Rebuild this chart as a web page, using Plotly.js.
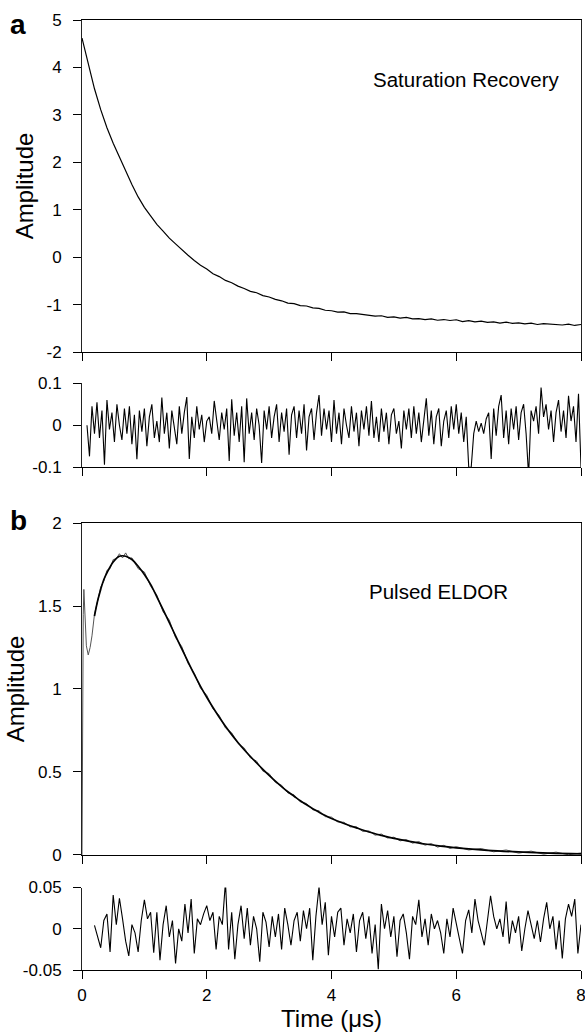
<!DOCTYPE html>
<html>
<head>
<meta charset="utf-8">
<script src="https://cdn.plot.ly/plotly-3.0.1.min.js"></script>
<style>html,body{margin:0;padding:0;background:#fff}#chart{width:585px;height:1035px}</style>
</head>
<body>
<div id="chart"></div>
<script>
// ---------- Panel a: saturation recovery ----------
const satTime = [0,0.1,0.2,0.3,0.4,0.5,0.6,0.7,0.8,0.9,1.0,1.1,1.2,1.3,1.4,1.5,1.6,1.7,1.8,1.9,2.0,2.1,2.2,2.3,2.4,2.5,2.6,2.7,2.8,2.9,3.0,3.1,3.2,3.3,3.4,3.5,3.6,3.7,3.8,3.9,4.0,4.1,4.2,4.3,4.4,4.5,4.6,4.7,4.8,4.9,5.0,5.1,5.2,5.3,5.4,5.5,5.6,5.7,5.8,5.9,6.0,6.1,6.2,6.3,6.4,6.5,6.6,6.7,6.8,6.9,7.0,7.1,7.2,7.3,7.4,7.5,7.6,7.7,7.8,7.9,8.0];
const satAmp = [4.62,4.07,3.55,3.11,2.73,2.40,2.10,1.81,1.53,1.27,1.05,0.87,0.69,0.55,0.40,0.28,0.15,0.04,-0.07,-0.17,-0.25,-0.35,-0.41,-0.49,-0.54,-0.61,-0.66,-0.72,-0.75,-0.81,-0.84,-0.89,-0.92,-0.97,-0.98,-1.02,-1.03,-1.07,-1.08,-1.12,-1.13,-1.16,-1.155,-1.19,-1.19,-1.21,-1.215,-1.245,-1.235,-1.27,-1.26,-1.285,-1.27,-1.30,-1.295,-1.315,-1.30,-1.33,-1.315,-1.335,-1.32,-1.36,-1.34,-1.365,-1.35,-1.375,-1.365,-1.39,-1.37,-1.395,-1.385,-1.405,-1.39,-1.42,-1.40,-1.41,-1.405,-1.43,-1.41,-1.44,-1.42];

// residual a: uniformly sampled, first sample time and sampling interval (us)
const satResStart = 0.08;
const satResStep = 0.04;
const satResidual = [
 0.00,-0.074,0.045,-0.02,0.055,-0.03,0.035,-0.094,0.06,-0.01,
 0.03,-0.04,0.05,0.00,-0.035,0.04,-0.02,0.045,-0.045,0.025,
 -0.081,0.035,-0.015,0.04,-0.05,0.02,0.05,-0.03,0.01,-0.04,
 0.066,-0.02,0.03,-0.055,0.035,0.0,-0.045,0.045,-0.02,0.03,
 0.067,-0.08,0.02,-0.03,0.045,-0.01,0.025,-0.04,0.01,0.02,
 -0.02,0.058,0.01,-0.035,0.03,-0.01,0.04,-0.085,0.062,-0.025,
 0.03,-0.04,0.045,-0.088,0.064,-0.02,0.03,-0.035,0.04,0.00,
 -0.09,0.035,-0.01,0.045,-0.03,0.02,0.05,-0.04,0.03,-0.015,
 0.04,-0.07,0.025,0.045,-0.03,0.035,-0.02,0.05,-0.06,0.02,
 0.04,-0.035,0.03,0.072,-0.025,0.04,-0.01,0.035,-0.04,0.06,
 -0.02,0.03,-0.045,0.04,0.0,-0.03,0.045,-0.015,0.03,-0.05,
 0.035,-0.01,0.045,-0.025,0.058,-0.03,0.02,-0.04,0.04,-0.015,
 0.03,-0.045,0.025,0.04,-0.02,0.01,-0.055,0.035,-0.01,0.04,
 -0.03,0.045,-0.02,0.03,-0.04,0.02,0.064,-0.025,0.035,-0.045,
 0.02,0.04,-0.05,0.01,0.035,-0.03,0.045,-0.01,0.05,-0.02,
 0.03,-0.04,0.02,-0.10,-0.10,-0.02,0.01,-0.015,0.005,-0.02,
 0.015,0.03,-0.08,0.04,-0.025,0.045,0.072,-0.03,0.035,-0.045,
 0.04,-0.01,0.045,-0.035,0.03,0.05,-0.02,-0.12,0.035,0.01,
 0.045,-0.02,0.09,0.02,0.05,-0.01,0.035,-0.04,0.03,0.06,
 -0.015,0.035,-0.03,0.07,0.01,0.045,-0.04,0.075,-0.10];

// ---------- Panel b: pulsed ELDOR ----------
const eldorTime = [0,0.01,0.02,0.03,0.05,0.07,0.10,0.13,0.16,0.20,0.25,0.30,0.35,0.40,0.45,0.50,0.55,0.60,0.65,0.70,0.75,0.80,0.90,1.00,1.10,1.20,1.30,1.40,1.50,1.60,1.70,1.80,1.90,2.00,2.10,2.20,2.30,2.40,2.50,2.60,2.70,2.80,2.90,3.00,3.10,3.20,3.30,3.40,3.50,3.60,3.70,3.80,3.90,4.00,4.10,4.20,4.30,4.40,4.50,4.60,4.70,4.80,4.90,5.00,5.10,5.20,5.30,5.40,5.50,5.60,5.70,5.80,5.90,6.00,6.20,6.40,6.60,6.80,7.00,7.20,7.40,7.60,7.80,8.00];
const eldorAmp = [0.00,0.95,1.45,1.60,1.40,1.26,1.205,1.25,1.32,1.45,1.53,1.615,1.65,1.715,1.725,1.78,1.785,1.815,1.79,1.82,1.785,1.79,1.725,1.705,1.62,1.565,1.465,1.415,1.31,1.255,1.155,1.095,1.005,0.962,0.88,0.84,0.765,0.736,0.672,0.645,0.585,0.565,0.505,0.49,0.437,0.42,0.374,0.362,0.32,0.31,0.272,0.266,0.231,0.228,0.199,0.197,0.169,0.17,0.142,0.145,0.119,0.126,0.102,0.107,0.085,0.093,0.071,0.081,0.059,0.069,0.047,0.058,0.039,0.05,0.03,0.039,0.019,0.03,0.011,0.023,0.005,0.017,0.001,0.012];

const eldorFitTime = [0.20,0.25,0.30,0.35,0.40,0.50,0.60,0.70,0.80,0.90,1.00,1.10,1.20,1.30,1.40,1.50,1.60,1.70,1.80,1.90,2.00,2.10,2.20,2.30,2.40,2.50,2.60,2.70,2.80,2.90,3.00,3.10,3.20,3.30,3.40,3.50,3.60,3.70,3.80,3.90,4.00,4.20,4.40,4.60,4.80,5.00,5.25,5.50,5.75,6.00,6.50,7.00,7.50,8.00];
const eldorFit = [1.44,1.53,1.60,1.66,1.70,1.765,1.80,1.80,1.78,1.74,1.69,1.63,1.555,1.478,1.40,1.32,1.242,1.164,1.088,1.016,0.950,0.888,0.830,0.776,0.725,0.678,0.634,0.593,0.554,0.516,0.48,0.445,0.412,0.381,0.354,0.327,0.302,0.279,0.258,0.238,0.22,0.19,0.163,0.138,0.118,0.10,0.082,0.066,0.053,0.043,0.028,0.018,0.011,0.007];

// residual b: uniformly sampled
const eldorResStart = 0.2;
const eldorResStep = 0.05;
const eldorResidual = [
 0.004,-0.008,-0.023,0.01,0.018,-0.028,0.041,0.005,0.037,0.012,
 -0.015,-0.033,0.005,-0.005,-0.028,0.01,0.035,0.012,0.02,-0.029,
 0.02,-0.038,0.005,0.028,-0.01,0.01,-0.042,0.0,-0.015,0.03,
 -0.005,0.036,-0.03,0.012,0.005,0.018,0.028,0.01,0.02,-0.025,
 0.015,0.005,0.057,-0.025,0.02,-0.037,0.005,0.028,-0.012,0.025,
 -0.02,0.015,0.0,-0.04,0.02,0.008,-0.022,0.015,-0.01,0.018,
 -0.025,0.025,0.005,-0.02,0.01,0.02,-0.015,0.022,0.0,0.025,
 -0.038,0.015,0.051,0.005,0.032,-0.032,0.015,-0.01,0.02,0.025,
 -0.02,0.012,-0.005,0.018,-0.028,0.01,0.02,-0.012,0.015,-0.03,
 0.005,-0.049,0.03,0.0,0.022,-0.01,0.015,-0.034,0.01,0.018,
 -0.005,-0.037,0.015,0.005,0.035,-0.01,0.012,-0.02,0.018,0.0,
 0.01,-0.005,-0.03,0.012,-0.01,0.025,0.005,-0.012,-0.03,0.01,
 0.023,-0.005,0.036,0.01,-0.005,-0.02,0.01,0.04,0.015,0.0,
 0.012,-0.01,0.033,-0.018,0.01,-0.005,0.015,-0.027,0.0,0.022,
 0.005,-0.012,0.01,-0.016,0.012,0.032,0.0,0.015,-0.025,0.01,
 -0.036,0.012,0.03,0.015,0.036,-0.03,0.005];

const xTicks = [0,2,4,6,8];
const xTickText = ['0','2','4','6','8'];
const satTicks = [-2,-1,0,1,2,3,4,5];
const satTickText = ['-2','-1','0','1','2','3','4','5'];
const satResTicks = [-0.1,0,0.1];
const satResTickText = ['-0.1','0','0.1'];
const eldorTicks = [0,0.5,1,1.5,2];
const eldorTickText = ['0','0.5','1','1.5','2'];
const eldorResTicks = [-0.05,0,0.05];
const eldorResTickText = ['-0.05','0','0.05'];

const satResTime = satResidual.map((_, i) => satResStart + i * satResStep);
const eldorResTime = eldorResidual.map((_, i) => eldorResStart + i * eldorResStep);

const traces = [
  {x: satTime, y: satAmp, xaxis: 'x', yaxis: 'y', mode: 'lines', line: {color: '#000', width: 1.2}},
  {x: satResTime, y: satResidual, xaxis: 'x2', yaxis: 'y2', mode: 'lines', line: {color: '#000', width: 1.1}},
  {x: eldorTime, y: eldorAmp, xaxis: 'x3', yaxis: 'y3', mode: 'lines', line: {color: '#555', width: 1}},
  {x: eldorFitTime, y: eldorFit, xaxis: 'x3', yaxis: 'y3', mode: 'lines', line: {color: '#000', width: 1.7, shape: 'spline'}},
  {x: eldorResTime, y: eldorResidual, xaxis: 'x4', yaxis: 'y4', mode: 'lines', line: {color: '#000', width: 1.1}}
];

const fontFam = 'Liberation Sans, Arial, sans-serif';
function xax(anchor, mirror, labels) {
  return {
    anchor: anchor, domain: [0, 1], range: [0, 8], tickmode: 'array', tickvals: xTicks, ticktext: xTickText,
    ticks: 'outside', ticklen: 8, tickwidth: 1, tickcolor: '#000', showline: true, linecolor: '#000', linewidth: 1,
    mirror: mirror, showgrid: false, zeroline: false, showticklabels: labels, ticklabeloverflow: 'allow',
    tickfont: {family: fontFam, size: 17, color: '#000'}, ticklabelstandoff: 2
  };
}
function yax(anchor, domain, range, vals, text, mirror, withTitle) {
  const a = {
    anchor: anchor, domain: domain, range: range, tickmode: 'array', tickvals: vals, ticktext: text,
    ticks: 'outside', ticklen: 8, tickwidth: 1, tickcolor: '#000', showline: true, linecolor: '#222', linewidth: 1,
    mirror: mirror, showgrid: false, zeroline: false, ticklabeloverflow: 'allow',
    tickfont: {family: fontFam, size: 17, color: '#000'}, ticklabelstandoff: 8
  };
  if (withTitle) a.title = {text: 'Amplitude', font: {family: fontFam, size: 24, color: '#000'}, standoff: 6};
  return a;
}

const layout = {
  width: 585, height: 1035,
  margin: {l: 82, r: 4, t: 20, b: 65},
  paper_bgcolor: '#fff', plot_bgcolor: '#fff',
  showlegend: false, hovermode: false,
  font: {family: fontFam, color: '#000'},
  xaxis: xax('y', true, false),
  xaxis2: xax('y2', false, false),
  xaxis3: xax('y3', true, false),
  xaxis4: Object.assign(xax('y4', false, true), {title: {text: 'Time (\u03bcs)', font: {family: fontFam, size: 24, color: '#000'}, standoff: 0}}),
  yaxis: yax('x', [0.6505, 1], [-2, 5], satTicks, satTickText, true, true),
  yaxis2: yax('x2', [0.5292, 0.6176], [-0.1, 0.1], satResTicks, satResTickText, false, false),
  yaxis3: yax('x3', [0.1211, 0.4705], [0, 2], eldorTicks, eldorTickText, true, true),
  yaxis4: yax('x4', [0, 0.0868], [-0.05, 0.05], eldorResTicks, eldorResTickText, false, false),
  annotations: [
    {text: 'Saturation Recovery', xref: 'x', yref: 'y', x: 6.156, y: 3.74, showarrow: false, xanchor: 'center', yanchor: 'middle', font: {family: fontFam, size: 20.5, color: '#000'}},
    {text: 'Pulsed ELDOR', xref: 'x3', yref: 'y3', x: 5.715, y: 1.586, showarrow: false, xanchor: 'center', yanchor: 'middle', font: {family: fontFam, size: 20.5, color: '#000'}},
    {text: '<b>a</b>', xref: 'paper', yref: 'paper', x: -0.128, y: 0.9957, showarrow: false, xanchor: 'center', yanchor: 'middle', font: {family: fontFam, size: 28, color: '#000'}},
    {text: '<b>b</b>', xref: 'paper', yref: 'paper', x: -0.128, y: 0.4736, showarrow: false, xanchor: 'center', yanchor: 'middle', font: {family: fontFam, size: 28, color: '#000'}}
  ]
};

Plotly.newPlot('chart', traces, layout, {displayModeBar: false, staticPlot: true});
</script>
</body>
</html>
